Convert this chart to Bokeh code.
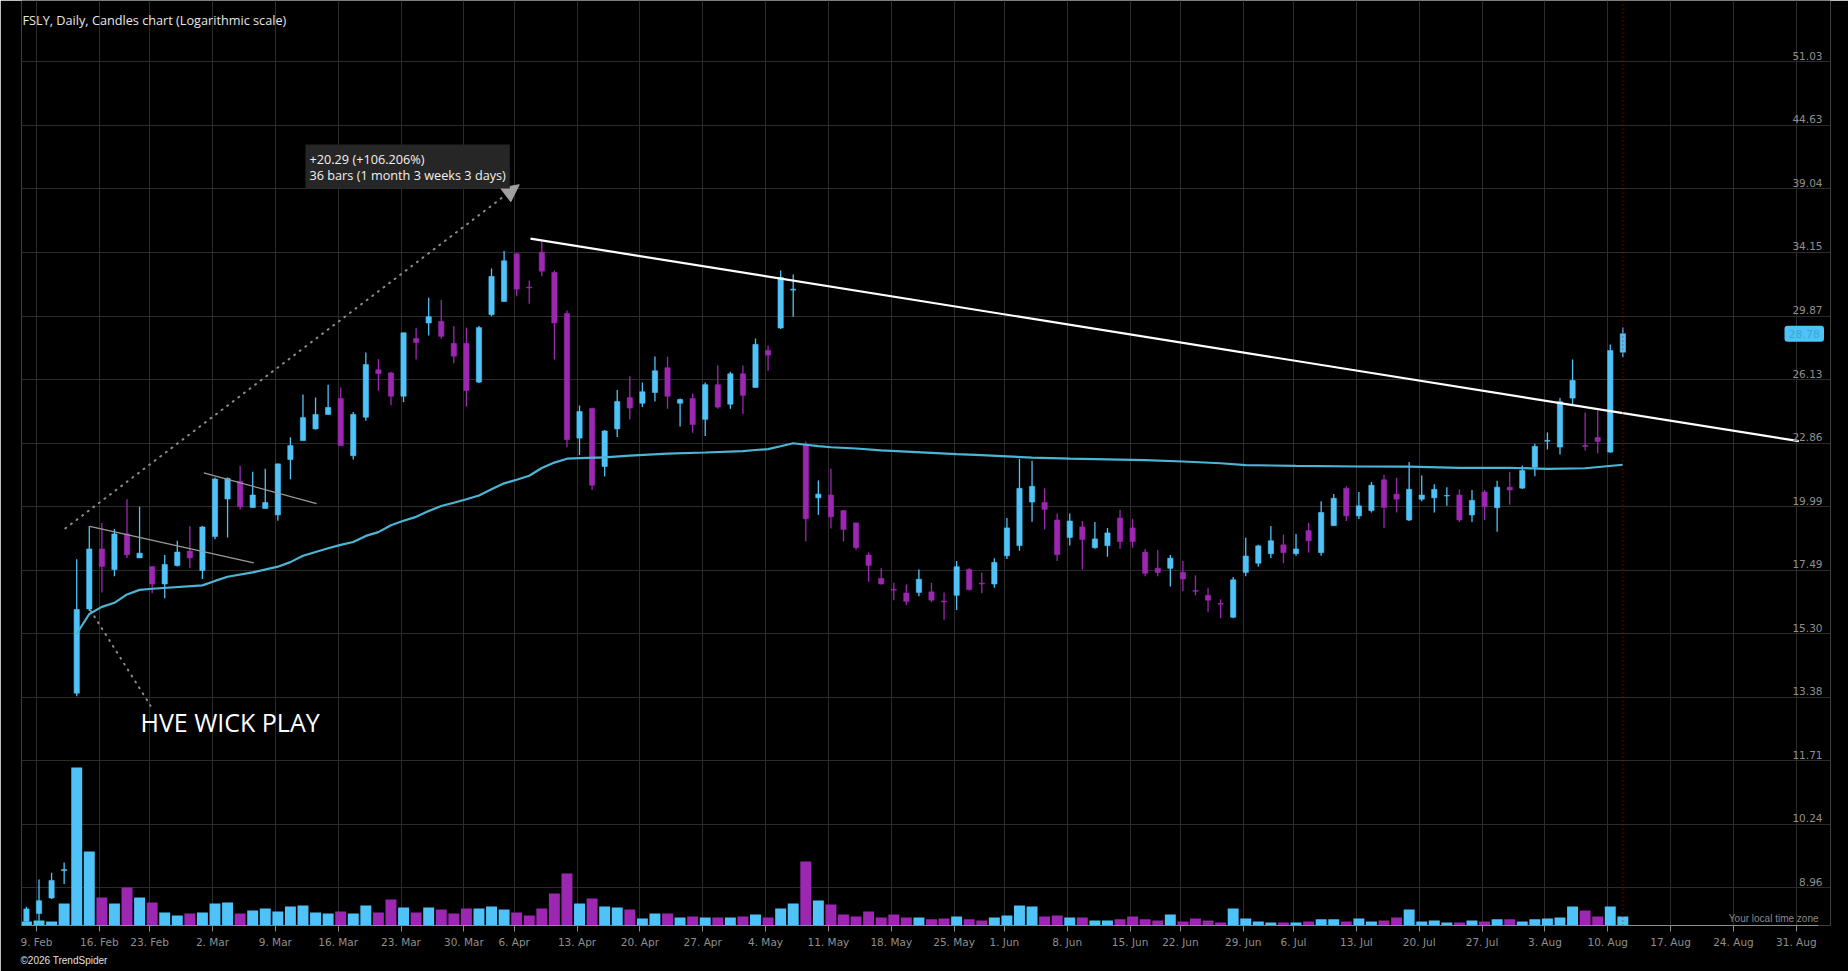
import numpy as np
from bokeh.plotting import figure
from bokeh.models import (ColumnDataSource, Range1d, LinearScale, FixedTicker, Label,
                          LabelSet, Span, Arrow, NormalHead, Title)
from bokeh.core.properties import value
from bokeh.embed import file_html
from bokeh.resources import INLINE

# ---------------- data ----------------
HOLIDAYS = ["2026-02-16", "2026-04-03", "2026-05-25", "2026-06-19", "2026-07-03"]
FIRST_DAY = "2026-02-09"
FIRST_BAR = "2026-02-06"
LAST_BAR_EXCL = "2026-08-12"

opens = [8.35, 8.49, 8.77, 9.29, 13.50, 16.12, 18.29, 17.52, 18.88, 17.95,
         17.62, 16.99, 17.66, 18.21, 17.48, 18.78, 20.32, 21.09, 19.96, 19.92,
         19.65, 22.08, 22.98, 23.55, 24.28, 25.11, 22.26, 24.14, 26.68, 26.50,
         25.23, 28.49, 29.44, 29.54, 28.20, 28.20, 25.99, 29.96, 30.80, 34.06,
         31.75, 34.17, 32.74, 30.03, 23.10, 24.59, 21.76, 23.55, 25.16, 24.86,
         25.43, 26.79, 24.86, 25.11, 24.03, 25.85, 24.81, 26.45, 25.70, 27.79,
         29.13, 31.55, 22.81, 20.37, 20.49, 19.83, 19.32, 18.06, 17.19, 16.80,
         16.67, 16.69, 16.71, 16.39, 16.59, 17.52, 17.02, 16.99, 18.03, 18.42,
         20.19, 20.17, 19.44, 18.74, 19.16, 18.34, 18.42, 19.52, 19.12, 18.17,
         17.56, 17.56, 17.41, 16.76, 16.59, 16.31, 15.84, 17.41, 17.75, 18.11,
         18.45, 18.11, 19.01, 18.15, 19.21, 20.78, 19.61, 19.83, 21.16, 20.53,
         19.44, 20.31, 20.37, 20.45, 20.49, 19.65, 20.62, 19.95, 20.83, 20.79,
         21.73, 22.95, 22.67, 25.13, 22.75, 23.13, 22.43, 27.68]
highs = [8.61, 9.12, 9.25, 9.45, 17.90, 19.20, 19.32, 19.08, 20.31, 19.99,
         17.65, 18.06, 18.61, 19.20, 19.20, 21.26, 21.26, 21.79, 21.52, 21.66,
         21.90, 23.14, 25.32, 25.16, 25.85, 25.70, 24.40, 27.67, 27.28, 26.56,
         28.84, 29.15, 31.05, 30.91, 29.25, 29.15, 29.25, 33.02, 34.25, 34.10,
         32.20, 34.95, 32.88, 30.23, 24.74, 24.62, 23.50, 25.57, 26.32, 25.97,
         27.43, 27.43, 25.11, 25.37, 25.97, 26.91, 26.56, 26.91, 28.49, 28.08,
         32.88, 32.61, 22.94, 21.13, 21.66, 19.85, 19.34, 18.15, 17.56, 17.03,
         16.97, 17.52, 17.03, 16.69, 17.83, 17.56, 17.41, 17.94, 19.52, 22.11,
         22.02, 20.78, 19.71, 19.71, 19.40, 19.36, 19.12, 19.87, 19.48, 18.29,
         18.25, 18.06, 17.83, 17.30, 16.86, 16.45, 17.24, 18.73, 18.45, 19.20,
         18.85, 18.88, 19.32, 20.22, 20.53, 20.87, 20.62, 21.06, 21.39, 21.25,
         21.97, 21.35, 20.96, 20.83, 20.74, 20.71, 20.71, 21.12, 21.52, 21.81,
         22.83, 23.38, 25.13, 27.26, 24.38, 24.48, 28.14, 29.16]
lows = [8.33, 8.36, 8.75, 9.03, 13.41, 16.05, 16.69, 17.27, 17.95, 17.95,
        16.66, 16.49, 17.63, 17.56, 17.17, 18.67, 18.74, 19.88, 19.96, 19.92,
        19.41, 21.18, 22.98, 23.52, 24.28, 22.74, 22.08, 23.96, 25.52, 24.76,
        24.92, 27.26, 28.68, 28.47, 27.05, 24.69, 25.94, 29.85, 30.80, 31.14,
        30.66, 32.49, 27.26, 22.66, 22.29, 20.71, 21.31, 23.15, 24.02, 24.66,
        24.95, 24.57, 23.67, 23.36, 23.20, 24.57, 24.57, 24.30, 25.70, 26.62,
        29.07, 29.83, 18.58, 19.65, 19.10, 18.58, 18.26, 17.07, 16.97, 16.42,
        16.25, 16.56, 16.35, 15.76, 16.08, 16.76, 16.66, 16.86, 17.91, 18.22,
        19.37, 19.06, 17.83, 18.42, 17.52, 18.30, 17.99, 18.30, 18.34, 17.27,
        17.27, 16.90, 16.73, 16.59, 16.01, 15.81, 15.81, 17.27, 17.63, 17.95,
        17.75, 18.03, 18.15, 18.03, 19.21, 19.40, 19.48, 19.75, 19.12, 19.75,
        19.40, 20.22, 19.75, 20.03, 19.36, 19.36, 19.44, 18.97, 20.08, 20.75,
        21.32, 22.55, 22.32, 24.79, 22.51, 22.38, 22.40, 27.39]
closes = [8.57, 8.72, 9.10, 9.31, 16.10, 18.29, 17.63, 18.88, 18.07, 18.13,
          16.99, 17.70, 18.17, 17.95, 19.16, 21.19, 21.22, 19.99, 20.49, 20.17,
          21.88, 22.74, 24.12, 24.28, 24.64, 22.74, 24.28, 26.97, 26.46, 25.23,
          28.84, 28.25, 29.83, 28.62, 27.45, 25.54, 29.15, 32.47, 33.56, 31.61,
          31.70, 32.83, 29.44, 23.03, 24.43, 20.92, 23.45, 24.95, 24.61, 25.47,
          26.62, 25.23, 25.06, 23.77, 25.85, 24.66, 26.45, 25.28, 28.14, 27.51,
          32.41, 31.61, 19.49, 20.53, 19.57, 19.06, 18.34, 17.67, 16.99, 16.77,
          16.38, 17.16, 16.42, 16.36, 17.62, 16.79, 16.99, 17.78, 19.12, 20.78,
          20.87, 19.88, 18.07, 19.40, 18.66, 18.68, 18.92, 18.58, 18.58, 17.38,
          17.41, 17.94, 17.17, 16.73, 16.42, 16.28, 17.14, 18.02, 18.41, 18.61,
          18.15, 18.29, 18.61, 19.75, 20.35, 19.61, 20.03, 20.92, 19.96, 20.31,
          20.74, 20.49, 20.74, 20.47, 19.44, 20.26, 19.99, 20.83, 20.71, 21.58,
          22.70, 22.99, 24.94, 26.08, 22.70, 22.94, 27.78, 28.78]
volumes = [1.5, 1.9, 1.5, 8.3, 59.3, 27.8, 10.5, 8.3, 14.3, 10.5,
           8.6, 4.9, 3.8, 4.5, 4.9, 8.3, 8.6, 4.5, 5.6, 6.4,
           5.3, 7.1, 7.5, 4.9, 4.5, 5.3, 4.5, 7.5, 4.9, 9.8,
           6.8, 4.9, 6.8, 6.0, 4.5, 6.4, 6.4, 7.1, 6.0, 4.9,
           3.8, 6.4, 12.0, 19.5, 8.3, 10.1, 7.1, 6.8, 6.0, 2.6,
           4.5, 4.5, 3.0, 3.4, 3.0, 3.0, 3.0, 3.4, 4.1, 3.0,
           6.4, 8.3, 24.0, 9.4, 7.9, 4.1, 3.4, 5.3, 3.0, 4.1,
           3.0, 3.0, 2.3, 2.6, 3.4, 2.3, 1.9, 3.0, 3.8, 7.5,
           7.1, 3.4, 3.8, 3.0, 3.0, 1.9, 1.9, 2.3, 3.4, 2.3,
           1.9, 4.1, 1.5, 2.6, 1.9, 1.1, 6.4, 2.6, 1.5, 1.1,
           1.1, 1.1, 1.5, 2.3, 2.3, 1.5, 2.6, 1.5, 1.9, 3.0,
           6.0, 1.5, 1.9, 1.1, 1.1, 1.9, 1.5, 2.3, 2.3, 1.5,
           2.3, 2.6, 3.0, 7.1, 5.6, 3.4, 7.1, 3.4]

# anchored VWAP (bar index from 9 Feb, value)
vwap_idx = [3, 4, 5, 6, 7, 8, 9, 13, 14, 15, 17, 19, 20, 21, 23, 24, 25, 26, 27, 28,
            29, 30, 31, 32, 33, 34, 35, 36, 37, 38, 39, 40, 41, 42, 43, 45, 47, 50, 53, 56,
            57, 58, 59, 60, 61, 62, 63, 65, 67, 69, 71, 73, 75, 77, 79, 82, 85, 88, 91, 94,
            96, 100, 105, 109, 113, 117, 120, 123, 126]
vwap_val = [15.30, 15.95, 16.19, 16.33, 16.62, 16.78, 16.82, 16.94, 17.10, 17.25, 17.41,
            17.62, 17.79, 18.03, 18.32, 18.45, 18.56, 18.80, 18.95, 19.23, 19.41, 19.57,
            19.81, 20.02, 20.16, 20.31, 20.47, 20.74, 21.00, 21.16, 21.34, 21.69, 21.94,
            22.12, 22.15, 22.18, 22.26, 22.36, 22.41, 22.48, 22.53, 22.57, 22.71, 22.85,
            22.78, 22.71, 22.66, 22.60, 22.51, 22.45, 22.39, 22.33, 22.29, 22.23, 22.17,
            22.12, 22.09, 22.05, 21.99, 21.91, 21.82, 21.79, 21.76, 21.75, 21.70, 21.70,
            21.65, 21.68, 21.84]

price_ticks = [8.96, 10.24, 11.71, 13.38, 15.30, 17.49, 19.99, 22.86, 26.13, 29.87,
               34.15, 39.04, 44.63, 51.03]
week_labels = ["9. Feb", "16. Feb", "23. Feb", "2. Mar", "9. Mar", "16. Mar", "23. Mar",
               "30. Mar", "6. Apr", "13. Apr", "20. Apr", "27. Apr", "4. May", "11. May",
               "18. May", "25. May", "1. Jun", "8. Jun", "15. Jun", "22. Jun", "29. Jun",
               "6. Jul", "13. Jul", "20. Jul", "27. Jul", "3. Aug", "10. Aug", "17. Aug",
               "24. Aug", "31. Aug"]

# drawings on the chart (x in bar index from 9 Feb, y in price)
trend_x = [39.1, 140.0]
trend_y = [35.16, 22.95]
flag1_x = [4.04, 17.09]
flag1_y = [19.18, 17.76]
flag2_x = [13.11, 22.08]
flag2_y = [21.47, 20.12]
measure_x = [2.1, 38.2]
measure_y = [19.10, 39.39]
pointer_x = [4.1, 8.87]
pointer_y = [16.07, 13.15]
hve_pos = (8.07, 12.70)
last_close = 28.78

# ---------------- derived positions ----------------
SHIFT = 0.2
days = np.arange(np.datetime64(FIRST_BAR), np.datetime64(LAST_BAR_EXCL))
dates = [d for d in days if np.is_busday(d, holidays=HOLIDAYS)]
xs = [int(np.busday_count(FIRST_DAY, d, holidays=HOLIDAYS)) + SHIFT for d in dates]

mondays = np.arange(np.datetime64("2026-02-09"), np.datetime64("2026-09-01"), 7)
tick_pos = [int(np.busday_count(FIRST_DAY,
                                np.busday_offset(m, 0, roll="forward", holidays=HOLIDAYS),
                                holidays=HOLIDAYS)) for m in mondays]

UP = "#4fc3f7"
DOWN = "#9c27b0"
colors = [UP if c >= o else DOWN for o, c in zip(opens, closes)]
src = ColumnDataSource(dict(
    x=xs, open=opens, high=highs, low=lows, close=closes, volume=volumes,
    top=[max(o, c) for o, c in zip(opens, closes)],
    bottom=[min(o, c) for o, c in zip(opens, closes)],
    color=colors,
))

# ---------------- figure ----------------
W, H = 1848, 971
X0, X1 = -1.193, 142.72
p = figure(width=W, height=H, output_backend="svg", toolbar_location=None,
           y_axis_type="log", y_axis_location=None,
           x_range=Range1d(X0, X1), y_range=Range1d(8.276, 58.06),
           min_border_left=21, min_border_right=18, min_border_top=0, min_border_bottom=46)
p.background_fill_color = "#000000"
p.border_fill_color = "#000000"
p.outline_line_color = None

p.extra_y_ranges = {"vol": Range1d(0, 347.2)}
p.extra_y_scales = {"vol": LinearScale()}

GRID = "#2c2c2c"
p.xgrid.grid_line_color = GRID
p.ygrid.grid_line_color = GRID
p.ygrid.ticker = FixedTicker(ticks=price_ticks)

p.xaxis.ticker = FixedTicker(ticks=tick_pos)
p.xaxis.bounds = (X0, 141.77)
p.xaxis.major_label_overrides = {int(t): lab for t, lab in zip(tick_pos, week_labels)}
p.xaxis.axis_line_color = "#8c8c8c"
p.xaxis.major_tick_line_color = "#8c8c8c"
p.xaxis.major_tick_out = 6
p.xaxis.major_tick_in = 0
p.xaxis.minor_tick_line_color = None
p.xaxis.major_label_text_color = "#8f8f8f"
p.xaxis.major_label_text_font = "DejaVu Sans"
p.xaxis.major_label_text_font_size = "10.5px"
p.xaxis.major_label_standoff = 4

# volume
p.vbar(x="x", width=0.87, top="volume", bottom=0, source=src, y_range_name="vol",
       fill_color="color", line_color=None)

# candles
p.segment(x0="x", y0="low", x1="x", y1="high", source=src, line_color="color", line_width=1.3)
p.vbar(x="x", width=0.42, top="top", bottom="bottom", source=src,
       fill_color="color", line_color="color", line_width=0.6)

# anchored vwap
p.line([i + SHIFT for i in vwap_idx], vwap_val, line_color="#4cb5d6", line_width=2.2)

# drawings
p.line([v + SHIFT for v in trend_x], trend_y, line_color="#ffffff", line_width=2.2)
p.line([v + SHIFT for v in flag1_x], flag1_y, line_color="#9a9a9a", line_width=1.3)
p.line([v + SHIFT for v in flag2_x], flag2_y, line_color="#9a9a9a", line_width=1.3)
p.line([v + SHIFT for v in pointer_x], pointer_y, line_color="#8c8c8c", line_width=2,
       line_dash="1 6", line_cap="round")
p.add_layout(Arrow(end=NormalHead(size=17, fill_color="#a0a0a0", line_color="#a0a0a0"),
                   x_start=measure_x[0] + SHIFT, y_start=measure_y[0],
                   x_end=measure_x[1] + SHIFT, y_end=measure_y[1],
                   line_color="#8c8c8c", line_width=2, line_dash="1 6", line_cap="round"))

# last bar marker
p.add_layout(Span(location=xs[-1], dimension="height", line_color="#b00000",
                  line_width=1, line_dash="1 3"))

# price labels on the right
tick_src = ColumnDataSource(dict(y=price_ticks, text=["%.2f" % t for t in price_ticks]))
p.add_layout(LabelSet(x=1801, y="y", text="text", x_units="screen", source=tick_src,
                      text_align="right", text_baseline="bottom", y_offset=2,
                      text_font=value("DejaVu Sans"), text_font_size="10.5px",
                      text_color="#8f8f8f"))

p.add_layout(Label(x=1763, y=last_close, x_units="screen", text="%.2f" % last_close,
                   text_baseline="middle", text_align="left", text_font="DejaVu Sans",
                   text_font_size="11px", text_color="#3aa6d6",
                   background_fill_color="#4fc3f7", padding=4, border_radius=3))

# texts
p.add_layout(Label(x=1, y=906, x_units="screen", y_units="screen",
                   text="FSLY, Daily, Candles chart (Logarithmic scale)",
                   text_baseline="middle", text_font="Open Sans", text_font_size="12.7px",
                   text_color="#e6e6e6"))
p.add_layout(Label(x=hve_pos[0] + SHIFT, y=hve_pos[1], text="HVE WICK PLAY",
                   text_baseline="middle", text_font="Open Sans", text_font_size="25px",
                   text_color="#ffffff"))
p.add_layout(Label(x=284, y=781, x_units="screen", y_units="screen",
                   text="+20.29 (+106.206%)\n36 bars (1 month 3 weeks 3 days)",
                   text_baseline="top", text_font="Open Sans", text_font_size="12.7px",
                   text_line_height=0.89,
                   text_color="#f0f0f0", background_fill_color="#262626", padding=(4, 5)))
p.add_layout(Label(x=1797, y=7, x_units="screen", y_units="screen",
                   text="Your local time zone", text_align="right", text_baseline="middle",
                   text_font="Liberation Sans", text_font_size="10px", text_color="#8a8a8a"))
p.add_layout(Title(text="\u00a92026 TrendSpider", align="left", offset=-1, standoff=4,
                   text_font="Liberation Sans", text_font_size="10px",
                   text_font_style="normal", text_color="#e0e0e0"), "below")

open("out.html", "w").write(file_html(p, INLINE))
